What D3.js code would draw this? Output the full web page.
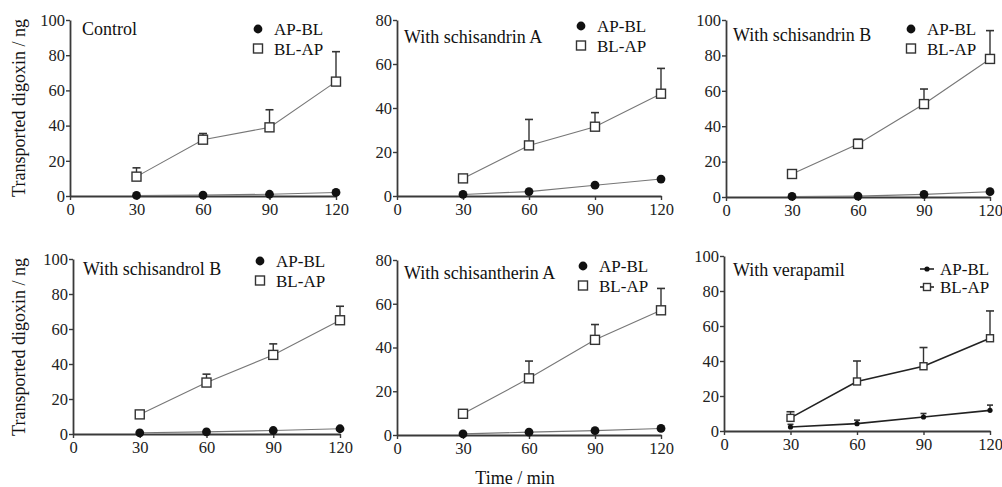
<!DOCTYPE html>
<html><head><meta charset="utf-8">
<script src="https://cdn.jsdelivr.net/npm/d3@7"></script>
<style>body{margin:0;background:#fff}svg{display:block}svg text{font-family:"Times New Roman","Liberation Serif",Times,"DejaVu Serif",serif !important}</style>
</head><body><svg id="c" width="1002" height="487"></svg>
<script>
// ---- data ----
const times = [30, 60, 90, 120];
const xTicks = [0, 30, 60, 90, 120];
const titles = ["Control", "With schisandrin A", "With schisandrin B", "With schisandrol B", "With schisantherin A", "With verapamil"];
const yMaxes = [100, 80, 100, 100, 80, 100];
const seriesNames = ["AP-BL", "BL-AP"];
const apbl = [[0.3, 0.5, 1, 2], [0.7, 2, 4.9, 7.7], [0.3, 0.5, 1.5, 3], [0.7, 1.2, 2, 3], [0.5, 1.3, 2, 3], [2.3, 4.2, 8, 11.8]];
const apblErr = [[0, 0, 0, 0], [0, 0, 0, 0], [0, 0, 0, 0], [0, 0, 0, 0], [0, 0, 0, 0], [1.5, 2, 2, 3]];
const blap = [[11, 32, 39, 65], [8, 23, 31.5, 46.5], [13, 30, 52.5, 78], [11.2, 29.4, 45.2, 65], [9.7, 25.9, 43.5, 57], [7.5, 28.3, 37, 53]];
const blapErr = [[5, 3.5, 10, 17], [0, 11.8, 6.4, 11.5], [0, 2.6, 8.5, 16], [0, 4.8, 6.3, 8], [0.8, 7.9, 7, 10], [3.5, 11.7, 10.7, 15.6]];
const yLabel = "Transported digoxin / ng";
const xLabel = "Time / min";

// ---- layout (geometry only) ----
const FONT = '"Times New Roman","Liberation Serif",Times,serif';
const frames = [
  {l: 70, r: 336, t: 20, b: 196, title: [82, 35], leg: [258, 29]},
  {l: 397, r: 661, t: 20, b: 196, title: [404, 43], leg: [581, 26]},
  {l: 726, r: 990, t: 20, b: 197, title: [733, 41], leg: [911, 29]},
  {l: 73, r: 340, t: 259, b: 434, title: [83, 275], leg: [260, 261]},
  {l: 397, r: 661, t: 260, b: 435, title: [404, 279], leg: [583, 266]},
  {l: 724, r: 990, t: 256, b: 431, title: [733, 276], leg: [927, 269]}
];

const svg = d3.select("#c").attr("font-family", FONT);
const axisCol = "#3a3a3a";

frames.forEach((f, i) => {
  const g = svg.append("g");
  const x = d3.scaleLinear().domain([0, 120]).range([f.l, f.r]);
  const y = d3.scaleLinear().domain([0, yMaxes[i]]).range([f.b, f.t]);
  const isV = i === 5;
  const lineCol = isV ? "#222" : "#777";
  const lineW = isV ? 1.6 : 1.1;

  const ya = g.append("g").attr("transform", `translate(${f.l},0)`)
    .call(d3.axisLeft(y).tickValues(d3.range(0, yMaxes[i] + 1, 20)).tickSize(4).tickPadding(1).tickSizeOuter(0));
  const xa = g.append("g").attr("transform", `translate(0,${f.b})`)
    .call(d3.axisBottom(x).tickValues(xTicks).tickSize(4).tickPadding(3).tickSizeOuter(0));
  [ya, xa].forEach(a => {
    a.attr("font-family", FONT).attr("font-size", 16.5);
    a.select(".domain").attr("stroke", axisCol).attr("stroke-width", 1.8);
    a.selectAll(".tick line").attr("stroke", axisCol).attr("stroke-width", 1.4);
    a.selectAll("text").attr("fill", "#222");
  });

  const line = d3.line().x((d, k) => x(times[k])).y(d => y(d));

  const drawErr = (vals, errs, cap) => {
    vals.forEach((v, k) => {
      if (errs[k] <= 0) return;
      const cx = x(times[k]);
      g.append("line").attr("x1", cx).attr("x2", cx).attr("y1", y(v)).attr("y2", y(v + errs[k]))
        .attr("stroke", "#333").attr("stroke-width", 1.4);
      g.append("line").attr("x1", cx - cap).attr("x2", cx + cap).attr("y1", y(v + errs[k])).attr("y2", y(v + errs[k]))
        .attr("stroke", "#333").attr("stroke-width", 1.6);
    });
  };
  drawErr(blap[i], blapErr[i], 4);
  drawErr(apbl[i], apblErr[i], 3);

  g.append("path").datum(apbl[i]).attr("d", line).attr("fill", "none").attr("stroke", lineCol).attr("stroke-width", lineW);
  g.append("path").datum(blap[i]).attr("d", line).attr("fill", "none").attr("stroke", lineCol).attr("stroke-width", lineW);

  const sq = isV ? 7 : 9;
  const cr = isV ? 2.6 : 4.4;
  const drawCircle = (cx, cy) => g.append("circle").attr("cx", cx).attr("cy", cy).attr("r", cr).attr("fill", "#111");
  const drawSquare = (cx, cy) => g.append("rect").attr("x", cx - sq / 2).attr("y", cy - sq / 2).attr("width", sq).attr("height", sq)
    .attr("fill", "#fff").attr("stroke", "#333").attr("stroke-width", 1.4);

  apbl[i].forEach((v, k) => drawCircle(x(times[k]), y(v)));
  blap[i].forEach((v, k) => drawSquare(x(times[k]), y(v)));

  g.append("text").attr("x", f.title[0]).attr("y", f.title[1]).attr("font-size", 18).attr("fill", "#111").text(titles[i]);

  const [lx, ly] = f.leg;
  const gap = isV ? 18 : 19.5;
  [0, 1].forEach(s => {
    const cy = ly + s * gap;
    if (isV) {
      g.append("line").attr("x1", lx - 7).attr("x2", lx + 7).attr("y1", cy).attr("y2", cy).attr("stroke", "#222").attr("stroke-width", 1.6);
    }
    if (s === 0) drawCircle(lx, cy); else drawSquare(lx, cy);
    g.append("text").attr("x", lx + (isV ? 13 : 16)).attr("y", cy + 6).attr("font-size", 17).attr("fill", "#111").text(seriesNames[s]);
  });
});

svg.append("text").attr("transform", "translate(25,108) rotate(-90)").attr("text-anchor", "middle").attr("font-size", 18).attr("fill", "#111").text(yLabel);
svg.append("text").attr("transform", "translate(25,347) rotate(-90)").attr("text-anchor", "middle").attr("font-size", 18).attr("fill", "#111").text(yLabel);
svg.append("text").attr("x", 515).attr("y", 484).attr("text-anchor", "middle").attr("font-size", 18).attr("fill", "#111").text(xLabel);
</script></body></html>
